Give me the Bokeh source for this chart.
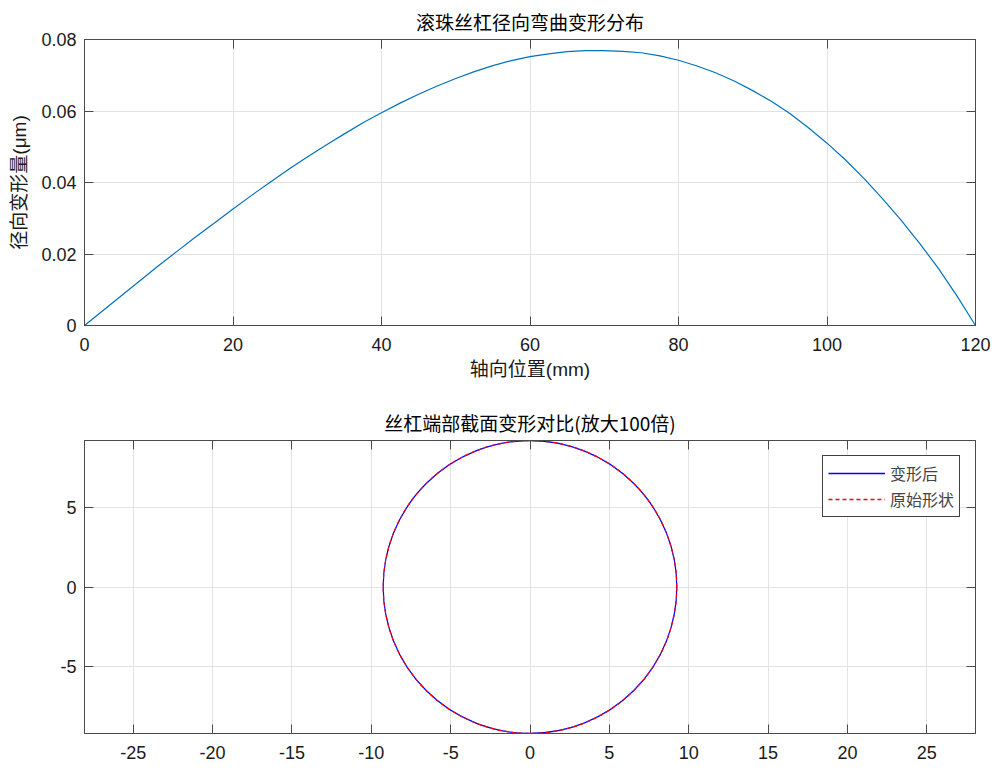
from bokeh.plotting import figure
from bokeh.layouts import column
from bokeh.models import (Range1d, LinearAxis, FixedTicker, CustomJSTickFormatter,
                          CustomLabelingPolicy, Legend, LegendItem)
from bokeh.embed import file_html
from bokeh.resources import INLINE

# ---------------- data ----------------
axial_pos = [0, 2.5, 5, 7.5, 10, 12.5, 15, 17.5, 20, 22.5, 25, 27.5, 30, 32.5, 35, 37.5,
             40, 42.5, 45, 47.5, 50, 52.5, 55, 57.5, 60, 62.5, 65, 67.5, 70, 72.5, 75, 77.5,
             80, 82.5, 85, 87.5, 90, 92.5, 95, 97.5, 100, 102.5, 105, 107.5, 110, 112.5,
             115, 117.5, 120]
radial_def = [0.0, 0.0042, 0.0084, 0.0126, 0.0168, 0.0208, 0.0248, 0.0287, 0.0326,
              0.0364, 0.0401, 0.0437, 0.0471, 0.0504, 0.0536, 0.0567, 0.0595, 0.0622,
              0.0647, 0.0670, 0.0691, 0.0710, 0.0727, 0.0741, 0.0752, 0.0760, 0.0766,
              0.0769, 0.0769, 0.0767, 0.0763, 0.0754, 0.0742, 0.0726, 0.0707, 0.0684,
              0.0657, 0.0627, 0.0593, 0.0553, 0.0510, 0.0463, 0.0411, 0.0354, 0.0294,
              0.0229, 0.0160, 0.0083, 0.0]
top_x_ticks = [0, 20, 40, 60, 80, 100, 120]
top_y_ticks = [0, 0.02, 0.04, 0.06, 0.08]

sec_x_ticks = [-25, -20, -15, -10, -5, 0, 5, 10, 15, 20, 25]
sec_y_ticks = [-5, 0, 5]
sec_center_x = [0.0]
sec_center_y = [0.0]
deformed_diameter = [18.5]
original_diameter = [18.5]

titles = ["滚珠丝杠径向弯曲变形分布", "丝杠端部截面变形对比(放大100倍)"]
x_label = "轴向位置(mm)"
y_label = "径向变形量(μm)"
legend_labels = ["变形后", "原始形状"]

# ---------------- style ----------------
AX = "#4a4a4a"
GRID = "#e3e3e3"
NUM_FONT = "Liberation Sans"
MIX_FONT = "Liberation Sans, 'Noto Sans CJK SC'"
CJK_FONT = "Noto Sans CJK SC"
fmt = CustomJSTickFormatter(code="return String(Number(tick.toFixed(4)));")
no_labels = CustomLabelingPolicy(code="return []")


def style(p, xt, yt):
    p.background_fill_color = "white"
    p.border_fill_color = "white"
    p.outline_line_color = AX
    p.outline_line_width = 1
    p.title.align = "center"
    p.title.text_font = CJK_FONT
    p.title.text_font_size = "19px"
    p.title.text_font_style = "normal"
    p.title.text_color = "black"
    for ax, ticks in ((p.below[0], xt), (p.left[0], yt)):
        ax.ticker = FixedTicker(ticks=ticks)
        ax.formatter = fmt
        ax.major_tick_in = 9
        ax.major_tick_out = 0
        ax.minor_tick_line_color = None
        ax.axis_line_color = AX
        ax.major_tick_line_color = AX
        ax.major_label_text_font = NUM_FONT
        ax.major_label_text_font_size = "18px"
        ax.major_label_text_color = "#1a1a1a"
        ax.axis_label_text_font = MIX_FONT
        ax.axis_label_text_font_size = "19px"
        ax.axis_label_text_font_style = "normal"
        ax.axis_label_text_color = "#1a1a1a"
    p.below[0].major_label_standoff = 12
    p.left[0].major_label_standoff = 8
    p.left[0].axis_label_standoff = 8
    p.xgrid.ticker = FixedTicker(ticks=xt)
    p.ygrid.ticker = FixedTicker(ticks=yt)
    p.grid.grid_line_color = GRID
    p.grid.grid_line_width = 1
    for loc, ticks in (("above", xt), ("right", yt)):
        ax = LinearAxis(ticker=FixedTicker(ticks=ticks), major_label_policy=no_labels,
                        major_label_text_font_size="0px",
                        major_label_standoff=0, major_tick_in=9, major_tick_out=0,
                        minor_tick_line_color=None, axis_line_color=AX,
                        major_tick_line_color=AX)
        p.add_layout(ax, loc)


# ---------------- top plot ----------------
p1 = figure(width=996, height=400, x_range=Range1d(0, 120), y_range=Range1d(0, 0.08),
            output_backend="svg", toolbar_location=None, title=titles[0],
            min_border_left=84, min_border_right=21, min_border_top=32, min_border_bottom=75)
style(p1, top_x_ticks, top_y_ticks)
p1.below[0].axis_label = x_label
p1.left[0].axis_label = y_label
p1.line(axial_pos, radial_def, line_color="#0072BD", line_width=1.2)

# ---------------- bottom plot ----------------
p2 = figure(width=996, height=370, x_range=Range1d(-28.07, 28.07), y_range=Range1d(-9.25, 9.25),
            output_backend="svg", toolbar_location=None, title=titles[1],
            min_border_left=84, min_border_right=21, min_border_top=40, min_border_bottom=37)
style(p2, sec_x_ticks, sec_y_ticks)
p2.ellipse(x=sec_center_x, y=sec_center_y, width=deformed_diameter, height=deformed_diameter,
           fill_color=None, line_color="#0000ff", line_width=1.2)
p2.ellipse(x=sec_center_x, y=sec_center_y, width=original_diameter, height=original_diameter,
           fill_color=None, line_color="#ff0000", line_width=1.2, line_dash="4 3")
# one-point lines: invisible in the plot, they only provide the legend samples
d1 = p2.line(x=sec_center_x, y=sec_center_y, line_color="blue", line_width=1.5)
d2 = p2.line(x=sec_center_x, y=sec_center_y, line_color="red", line_width=1.5,
             line_dash="4 3")
legend = Legend(items=[LegendItem(label=legend_labels[0], renderers=[d1]),
                       LegendItem(label=legend_labels[1], renderers=[d2])],
                location="top_right", margin=15, border_line_color="black",
                border_line_alpha=0.75,
                label_text_font=CJK_FONT, label_text_font_size="16px",
                glyph_width=57, glyph_height=20, label_height=20, padding=5, spacing=2,
                label_standoff=5)
p2.add_layout(legend)

layout = column(p1, p2, spacing=0)
open("out.html", "w").write(file_html(layout, INLINE))
